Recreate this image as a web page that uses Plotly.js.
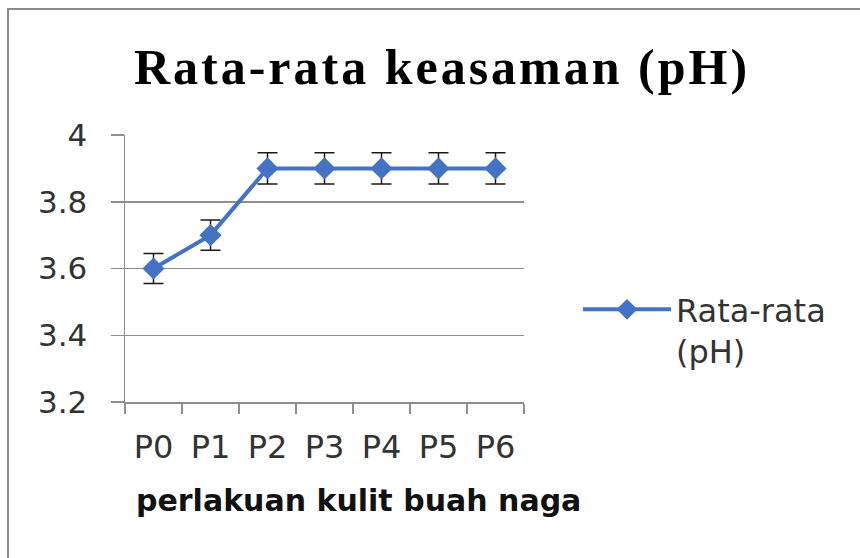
<!DOCTYPE html>
<html>
<head>
<meta charset="utf-8">
<script src="https://cdn.plot.ly/plotly-3.0.1.min.js"></script>
<style>
html, body { margin: 0; padding: 0; background: #fff; }
#chart { width: 860px; height: 558px; }
.gtitle { letter-spacing: 3px; }
</style>
</head>
<body>
<div id="chart"></div>
<script>
const categories = ["P0", "P1", "P2", "P3", "P4", "P5", "P6"];
const phMean = [3.6, 3.7, 3.9, 3.9, 3.9, 3.9, 3.9];
const phError = [0.045, 0.045, 0.047, 0.047, 0.047, 0.047, 0.047];
const yTickVals = [3.2, 3.4, 3.6, 3.8, 4];
const yTickText = ["3.2", "3.4", "3.6", "3.8", "4"];
const seriesName = "Rata-rata<br>(pH)";
const chartTitle = "Rata-rata keasaman (pH)";
const xTitle = "perlakuan kulit buah naga";

const W = 860, H = 558;
const L = 125, R = W - 524, T = 135, B = H - 402;
const pw = W - L - R, ph = H - T - B;
const px = v => (v - L) / pw;
const py = v => (H - B - v) / ph;

const grey = "#8e8e8e";
const sans = "DejaVu Sans, sans-serif";

const trace = {
  type: "scatter",
  mode: "lines+markers",
  x: categories,
  y: phMean,
  name: seriesName,
  line: { color: "#4472C4", width: 4 },
  marker: { symbol: "diamond", size: 17, color: "#4472C4" },
  error_y: { type: "data", array: phError, visible: true, color: "#1a1a1a", thickness: 1.5, width: 10 }
};

const layout = {
  width: W, height: H,
  margin: { l: L, r: R, t: T, b: B, pad: 0 },
  paper_bgcolor: "#ffffff",
  plot_bgcolor: "#ffffff",
  showlegend: true,
  title: {
    text: chartTitle,
    font: { family: "Liberation Serif, Times New Roman, serif", size: 50, color: "#000", weight: "bold" },
    xref: "container", x: 442 / W, xanchor: "center",
    yref: "container", y: 1 - 66 / H, yanchor: "middle"
  },
  xaxis: {
    type: "category",
    range: [-0.5, 6.5],
    tickson: "boundaries",
    ticks: "outside", ticklen: 10, tickcolor: grey, tickwidth: 1.5,
    showline: true, linecolor: grey, linewidth: 1.5,
    showgrid: false, zeroline: false,
    ticklabelstandoff: 16,
    tickfont: { family: sans, size: 32, color: "#333" },
    fixedrange: true
  },
  yaxis: {
    range: [3.2, 4],
    tickmode: "array", tickvals: yTickVals, ticktext: yTickText,
    ticks: "outside", ticklen: 13, tickcolor: grey, tickwidth: 1.5,
    showline: true, linecolor: grey, linewidth: 1.5,
    showgrid: true, gridcolor: grey, gridwidth: 1.5,
    zeroline: false,
    ticklabelstandoff: 17,
    tickfont: { family: sans, size: 31, color: "#333" },
    fixedrange: true
  },
  legend: {
    xref: "container", yref: "container",
    x: 578 / W, xanchor: "left",
    y: 1 - 282 / H, yanchor: "top",
    valign: "top",
    itemwidth: 88,
    font: { family: sans, size: 32, color: "#333" },
    bgcolor: "rgba(0,0,0,0)"
  },
  annotations: [{
    text: "<b>" + xTitle + "</b>",
    xref: "paper", yref: "paper",
    x: px(358), y: py(500), xanchor: "center", yanchor: "middle",
    showarrow: false,
    font: { family: sans, size: 30, color: "#111" }
  }],
  shapes: [{
    type: "rect", xref: "paper", yref: "paper",
    x0: px(8), x1: px(880), y0: py(600), y1: py(9),
    line: { color: "#8a8a8a", width: 2 }, fillcolor: "rgba(0,0,0,0)", layer: "below"
  }]
};

Plotly.newPlot("chart", [trace], layout, { staticPlot: true, displayModeBar: false });
</script>
</body>
</html>
